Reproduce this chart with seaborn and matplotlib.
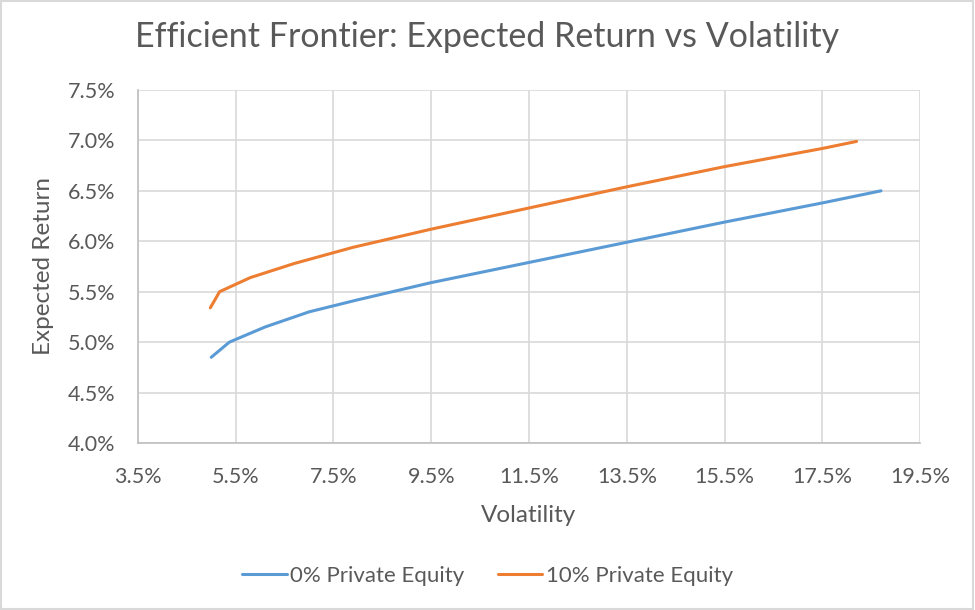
import matplotlib
matplotlib.use("Agg")
import numpy as np
import pandas as pd
import seaborn as sns
from matplotlib import pyplot as plt
from matplotlib.patches import Rectangle
from matplotlib.ticker import FuncFormatter, FixedLocator

# Values (in %)
vol_0pe = [5.0, 5.37, 6.1, 7.0, 8.0, 9.5, 11.5, 13.5, 15.5, 17.5, 18.7]
ret_0pe = [4.85, 5.0, 5.15, 5.3, 5.42, 5.59, 5.79, 5.99, 6.19, 6.38, 6.5]
vol_10pe = [4.98, 5.17, 5.8, 6.7, 7.9, 9.5, 11.5, 13.5, 15.5, 17.5, 18.2]
ret_10pe = [5.34, 5.5, 5.64, 5.78, 5.94, 6.12, 6.33, 6.54, 6.74, 6.92, 6.99]
x_ticks = [3.5, 5.5, 7.5, 9.5, 11.5, 13.5, 15.5, 17.5, 19.5]
y_ticks = [4.0, 4.5, 5.0, 5.5, 6.0, 6.5, 7.0, 7.5]
series_names = ["0% Private Equity", "10% Private Equity"]
colors = ["#5B9BD5", "#ED7D31"]

df = pd.concat([
    pd.DataFrame({"Volatility": vol_0pe, "Expected Return": ret_0pe, "Series": series_names[0]}),
    pd.DataFrame({"Volatility": vol_10pe, "Expected Return": ret_10pe, "Series": series_names[1]}),
], ignore_index=True)

sns.set_theme(style="white")
plt.rcParams["font.family"] = ["Lato", "DejaVu Sans"]
text_color = "#595959"

fig = plt.figure(figsize=(9.75, 6.1), dpi=100)
ax = fig.add_axes([0.1415, 0.2738, 0.8022, 0.5787])

sns.lineplot(
    data=df,
    x="Volatility",
    y="Expected Return",
    hue="Series",
    palette=colors,
    sort=False,
    linewidth=2.2,
    ax=ax,
)

ax.set_xlim(x_ticks[0], x_ticks[-1])
ax.set_ylim(y_ticks[0], y_ticks[-1])
ax.xaxis.set_major_locator(FixedLocator(x_ticks))
ax.yaxis.set_major_locator(FixedLocator(y_ticks))
ax.xaxis.set_major_formatter(FuncFormatter(lambda v, _: f"{v:.1f}%"))
ax.yaxis.set_major_formatter(FuncFormatter(lambda v, _: f"{v:.1f}%"))
ax.grid(True, color="#D9D9D9", linewidth=1.2)
ax.set_axisbelow(True)
for side in ["top", "right"]:
    ax.spines[side].set_visible(False)
for side in ["left", "bottom"]:
    ax.spines[side].set_color("#BFBFBF")
    ax.spines[side].set_linewidth(1.2)
ax.tick_params(axis="both", length=0, labelsize=15.5, colors=text_color)
ax.tick_params(axis="x", pad=17)
ax.tick_params(axis="y", pad=16)

ax.set_xlabel("Volatility", fontsize=17.5, color=text_color, labelpad=13)
ax.set_ylabel("Expected Return", fontsize=17.5, color=text_color, labelpad=10)
fig.suptitle("Efficient Frontier: Expected Return vs Volatility",
             fontsize=24.5, color=text_color, y=0.965)

sns.move_legend(
    ax, "lower center",
    bbox_to_anchor=(0.5, 0.007), bbox_transform=fig.transFigure,
    ncol=2, frameon=False, title=None,
    fontsize=16, handlelength=2.0, handletextpad=0.15, columnspacing=1.5,
)
for t in ax.get_legend().get_texts():
    t.set_color(text_color)

# Light chart border
fig.patches.append(Rectangle((0.001, 0.001), 0.997, 0.997, transform=fig.transFigure,
                             fill=False, edgecolor="#D9D9D9", linewidth=1.5))

fig.savefig("out.png", dpi=100)
